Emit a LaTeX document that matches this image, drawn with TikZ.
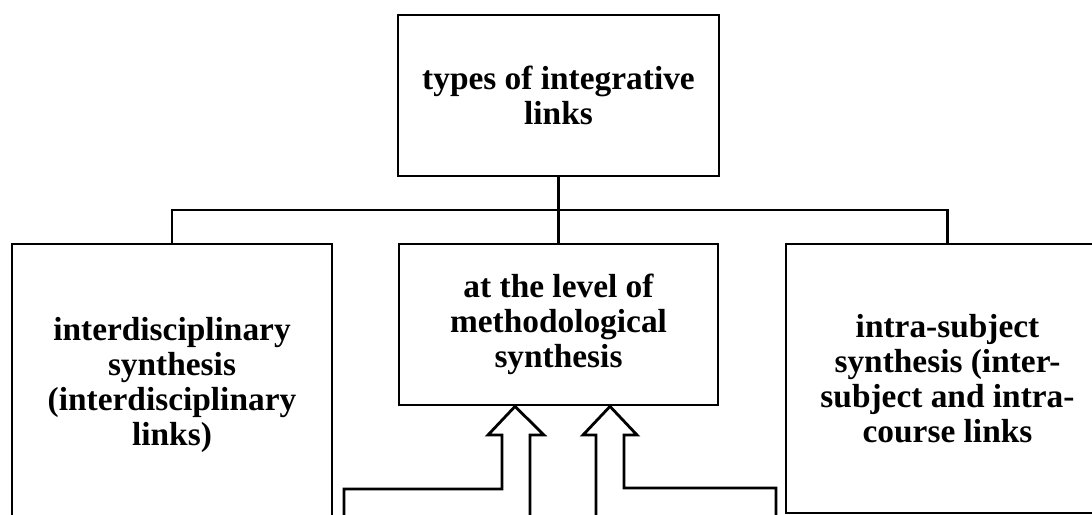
\documentclass[tikz,border=0pt]{standalone}
\usepackage{fontspec}
\setmainfont{Liberation Serif}
\usetikzlibrary{calc, positioning}

\begin{document}
\begin{tikzpicture}[x=0.02cm, y=-0.02cm, line width=1.6pt, line join=miter,
  box/.style={draw, rectangle, align=center, inner sep=0pt, font=\bfseries\fontsize{19}{19.8}\selectfont}]
  \useasboundingbox (0,0) rectangle (1092,514);
  \clip (0,0) rectangle (1092,514);

  \node[box, minimum width=321*0.02cm, minimum height=161*0.02cm] (types) at (558.5,95.5) {types of integrative\\links};
  \node[box, minimum width=319*0.02cm, minimum height=161*0.02cm] (level) at (558.5,324.5) {at the level of\\methodological\\synthesis};
  \node[box, minimum width=320*0.02cm, minimum height=282*0.02cm] (inter) at (172,385) {interdisciplinary\\synthesis\\(interdisciplinary\\links)};
  \node[box, minimum width=323*0.02cm, minimum height=269*0.02cm] (intra) at (947.5,378.5) {intra-subject\\synthesis (inter-\\subject and intra-\\course links};

  \coordinate (bus) at (558.5,210);
  \draw (types.south) -- (level.north);
  \draw (inter.north) |- (bus) -| (intra.north);

  % hollow arrows from below
  \draw (344,530) -- (344,489) -- (502,489) -- (502,435) -- (488,435) -- ($(level.south)+(-43.5,0)$) -- (544,435) -- (530,435) -- (530,530);
  \draw (596,530) -- (596,435) -- (583,435) -- ($(level.south)+(51.5,0)$) -- (637,435) -- (624,435) -- (624,488) -- (776,488) -- (776,530);
\end{tikzpicture}
\end{document}
